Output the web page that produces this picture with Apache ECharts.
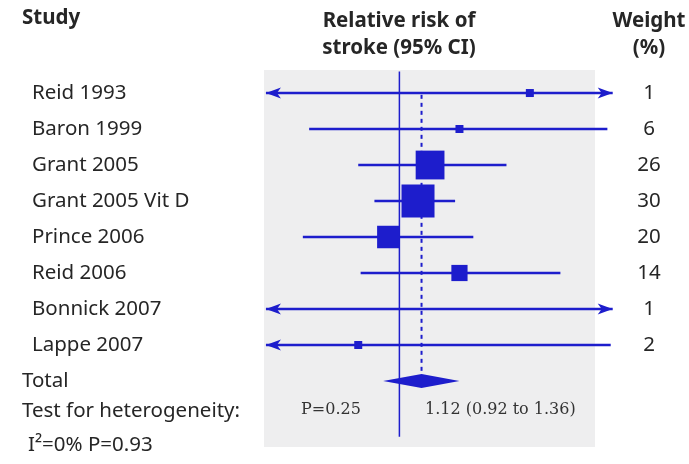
<!DOCTYPE html>
<html>
<head>
<meta charset="utf-8">
<script src="https://cdn.jsdelivr.net/npm/echarts@6/dist/echarts.min.js"></script>
<style>html,body{margin:0;padding:0;background:#fff;}#c{width:689px;height:464px;}</style>
</head>
<body>
<div id="c"></div>
<script>
// ---- data ----
var studies = ['Reid 1993','Baron 1999','Grant 2005','Grant 2005 Vit D','Prince 2006','Reid 2006','Bonnick 2007','Lappe 2007'];
var rr      = [1.95, 1.36, 1.17, 1.10, 0.945, 1.36, null, 0.81];
var lower   = [0.30, 0.63, 0.81, 0.88, 0.61, 0.82, 0.30, 0.30];
var upper   = [12.0, 2.90, 1.73, 1.33, 1.46, 2.28, 12.0, 2.95];
var weights = [1, 6, 26, 30, 20, 14, 1, 2];
var totalRR = 1.12, totalLow = 0.92, totalHigh = 1.36;
var totalText = '1.12 (0.92 to 1.36)';
var hetP = 'P=0.25';
var bottomLabels = ['Total', 'Test for heterogeneity:', 'I\u00b2=0% P=0.93'];
var bottomRows = [8, 8.83, 9.78];

var AXMIN = 0.5, AXMAX = 3.0;
var BLUE = '#1d1dcc';
var TXT = '#262626';
var LBLFONT = '20.5px "Noto Sans"';
var HDRFONT = 'bold 20.5px "Noto Sans"';
var chart = echarts.init(document.getElementById('c'));

var rows = studies.map(function(s,i){return [i];});

function forestItem(params, api) {
  var i = params.dataIndex;
  var lo = lower[i], hi = upper[i];
  var loC = Math.max(lo, 0.505), hiC = Math.min(hi, 2.98);
  var p1 = api.coord([loC, i]), p2 = api.coord([hiC, i]);
  var children = [{
    type: 'line', shape: {x1: p1[0], y1: p1[1], x2: p2[0], y2: p2[1]},
    style: {stroke: BLUE, lineWidth: 2.5}
  }];
  if (lo < AXMIN) {
    children.push({type:'polygon', shape:{points:[[p1[0],p1[1]],[p1[0]+15,p1[1]-5.5],[p1[0]+11,p1[1]],[p1[0]+15,p1[1]+5.5]]}, style:{fill:BLUE}});
  }
  if (hi > AXMAX) {
    children.push({type:'polygon', shape:{points:[[p2[0],p2[1]],[p2[0]-15,p2[1]-5.5],[p2[0]-11,p2[1]],[p2[0]-15,p2[1]+5.5]]}, style:{fill:BLUE}});
  }
  if (rr[i] != null) {
    var c = api.coord([rr[i], i]);
    var s = Math.max(8, 1.05 * weights[i] + 1.5);
    children.push({type:'rect', shape:{x:c[0]-s/2, y:c[1]-s/2, width:s, height:s}, style:{fill:BLUE}});
  }
  return {type:'group', children: children};
}

chart.setOption({
  animation: false,
  textStyle: {fontFamily: 'Noto Sans'},
  graphic: [
    {type:'rect', z:-10, shape:{x:264, y:70, width:331, height:377}, style:{fill:'#eeeeef'}},
    {type:'text', x:22, y:8, style:{text:'Study', font:HDRFONT, fill:TXT}},
    {type:'text', x:399, y:8, style:{text:'Relative risk of\nstroke (95% CI)', font:HDRFONT, fill:TXT, align:'center', lineHeight:27}},
    {type:'text', x:649, y:8, style:{text:'Weight\n(%)', font:HDRFONT, fill:TXT, align:'center', lineHeight:27}}
  ],
  grid: {left:264, right:75, top:70, bottom:24, show:false},
  xAxis: {type:'log', logBase:10, min:AXMIN, max:AXMAX, show:false},
  yAxis: {type:'value', inverse:true, min:-0.64, max:9.64, show:false},
  series: [
    { // reference line RR=1
      type:'custom', data:[[1]], silent:true, z:1,
      renderItem: function(p, api){
        var a = api.coord([1, -0.6]), b = api.coord([1, 9.55]);
        return {type:'line', shape:{x1:a[0],y1:a[1],x2:b[0],y2:b[1]}, style:{stroke:BLUE, lineWidth:1.5}};
      }
    },
    { // pooled estimate dashed line
      type:'custom', data:[[totalRR]], silent:true, z:1,
      renderItem: function(p, api){
        var a = api.coord([totalRR, 0.05]), b = api.coord([totalRR, 7.8]);
        return {type:'line', shape:{x1:a[0],y1:a[1],x2:b[0],y2:b[1]}, style:{stroke:BLUE, lineWidth:2, lineDash:[4,4]}};
      }
    },
    { // study CIs and squares
      type:'custom', data: rows, silent:true, z:3, renderItem: forestItem
    },
    { // diamond
      type:'custom', data:[[totalRR, 8]], silent:true, z:3,
      renderItem: function(p, api){
        var l = api.coord([totalLow, 8]), r = api.coord([totalHigh, 8]), c = api.coord([totalRR, 8]);
        return {type:'polygon', shape:{points:[[l[0],l[1]],[c[0],c[1]-7],[r[0],r[1]],[c[0],c[1]+7]]}, style:{fill:BLUE}};
      }
    },
    { // study labels and weights
      type:'custom', data: rows, silent:true, z:4,
      renderItem: function(p, api){
        var i = p.dataIndex, c = api.coord([1, i]);
        return {type:'group', children:[
          {type:'text', style:{x:32, y:c[1], text:studies[i], font:LBLFONT, fill:TXT, verticalAlign:'middle', align:'left'}},
          {type:'text', style:{x:649, y:c[1], text:String(weights[i]), font:LBLFONT, fill:TXT, verticalAlign:'middle', align:'center'}}
        ]};
      }
    },
    { // bottom labels
      type:'custom', data: bottomLabels.map(function(s,i){return [i];}), silent:true, z:4,
      renderItem: function(p, api){
        var i = p.dataIndex, c = api.coord([1, bottomRows[i]]);
        return {type:'text', style:{x: i === 2 ? 28 : 22, y:c[1], text:bottomLabels[i], font:LBLFONT, fill:TXT, verticalAlign:'middle', align:'left'}};
      }
    },
    { // summary texts
      type:'custom', data:[[totalRR, 8.8]], silent:true, z:4,
      renderItem: function(p, api){
        var c = api.coord([1, 8.8]);
        return {type:'group', children:[
          {type:'text', style:{x:331, y:c[1], text:hetP, font:'16px "DejaVu Serif"', fill:'#333', verticalAlign:'middle', align:'center'}},
          {type:'text', style:{x:425, y:c[1], text:totalText, font:'16px "DejaVu Serif"', fill:'#333', verticalAlign:'middle', align:'left'}}
        ]};
      }
    }
  ]
});
</script>
</body>
</html>
